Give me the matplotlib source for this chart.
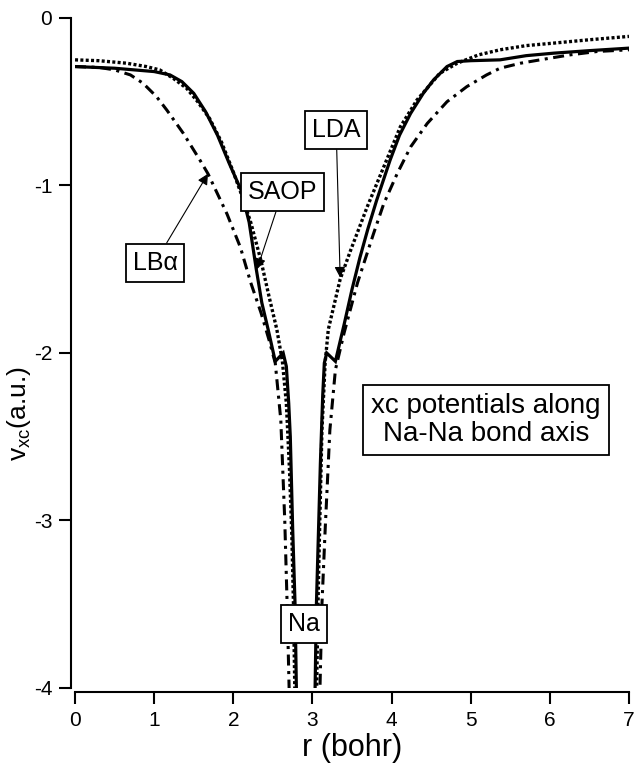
import numpy as np
import matplotlib
matplotlib.use("Agg")
import matplotlib.pyplot as plt

plt.rcParams['font.family'] = ['Liberation Sans', 'DejaVu Sans']
plt.rcParams['axes.unicode_minus'] = False
plt.rcParams['mathtext.default'] = 'regular'

# SAOP (solid)
saop_r = [0.0, 0.5, 1.0, 1.2, 1.35, 1.5, 1.65, 1.8, 1.95, 2.1, 2.2, 2.29, 2.36, 2.44, 2.53,
          2.63, 2.67, 2.70, 2.72, 2.75, 2.78, 2.80,
          3.03, 3.05, 3.08, 3.10, 3.13, 3.15, 3.18, 3.29, 3.4, 3.5, 3.6, 3.7, 3.81, 3.98,
          4.1, 4.24, 4.4, 4.53, 4.7, 4.83, 5.0, 5.37, 5.7, 6.05, 6.5, 7.0]
saop_v = [-0.29, -0.30, -0.32, -0.34, -0.38, -0.45, -0.56, -0.70, -0.87, -1.03, -1.22, -1.50, -1.70, -1.86, -2.05,
          -2.00, -2.08, -2.30, -2.50, -3.05, -3.50, -4.10,
          -4.10, -3.50, -3.00, -2.66, -2.25, -2.06, -2.00, -2.05, -1.83, -1.62, -1.43, -1.26, -1.09, -0.85,
          -0.70, -0.57, -0.45, -0.37, -0.29, -0.26, -0.255, -0.25, -0.225, -0.21, -0.195, -0.18]

# LDA (dotted)
lda_r = [0.0, 0.3, 0.65, 0.9, 1.07, 1.24, 1.41, 1.55, 1.7, 1.85, 2.0, 2.1, 2.22, 2.35, 2.45, 2.55,
         2.62, 2.67, 2.71, 2.74, 2.76, 2.78,
         3.05, 3.07, 3.09, 3.12, 3.16, 3.20, 3.35, 3.48, 3.69, 3.90, 4.11, 4.32, 4.61, 4.83,
         5.1, 5.37, 5.7, 6.05, 6.5, 7.0]
lda_v = [-0.25, -0.255, -0.27, -0.29, -0.31, -0.36, -0.42, -0.50, -0.60, -0.74, -0.92, -1.05, -1.22, -1.45, -1.66, -1.86,
         -2.05, -2.30, -2.70, -3.10, -3.50, -4.10,
         -4.10, -3.50, -3.06, -2.46, -2.06, -1.86, -1.56, -1.39, -1.13, -0.89, -0.65, -0.49, -0.33, -0.27,
         -0.22, -0.19, -0.165, -0.15, -0.13, -0.11]

# LB-alpha (dash-dot)
lba_r = [0.0, 0.3, 0.5, 0.7, 0.86, 1.03, 1.16, 1.37, 1.58, 1.68, 1.92, 2.09, 2.22, 2.35, 2.45, 2.53,
         2.60, 2.65, 2.68, 2.71,
         3.09, 3.12, 3.16, 3.22, 3.29, 3.4, 3.57, 3.77, 3.90, 4.07, 4.24, 4.45, 4.70, 4.95,
         5.2, 5.37, 5.63, 6.0, 6.26, 6.6, 7.0]
lba_v = [-0.29, -0.295, -0.31, -0.34, -0.39, -0.47, -0.55, -0.69, -0.85, -0.93, -1.17, -1.37, -1.58, -1.76, -1.92, -2.06,
         -2.40, -3.00, -3.50, -4.10,
         -4.10, -3.50, -3.06, -2.46, -2.10, -1.88, -1.58, -1.29, -1.11, -0.93, -0.77, -0.63, -0.50, -0.41,
         -0.34, -0.30, -0.27, -0.24, -0.22, -0.20, -0.19]

fig = plt.figure(figsize=(6.36, 7.65), dpi=100)
ax = fig.add_axes([0.118, 0.1007, 0.871, 0.8758])

ax.plot(lba_r, lba_v, color='black', lw=2.2, linestyle=(0, (3.6, 1.8, 1, 1.8)))
ax.plot(lda_r, lda_v, color='black', lw=2.4, linestyle=(0, (0.9, 0.7)))
ax.plot(saop_r, saop_v, color='black', lw=2.3, solid_joinstyle='miter')

ax.set_xlim(0, 7)
ax.set_ylim(-4, 0)
ax.set_xticks(range(0, 8))
ax.set_yticks([0, -1, -2, -3, -4])

for s in ['top', 'right']:
    ax.spines[s].set_visible(False)
for s in ['left', 'bottom']:
    ax.spines[s].set_position(('outward', 3))
    ax.spines[s].set_linewidth(1.5)
ax.tick_params(direction='out', length=8.5, width=1.5, labelsize=15, pad=5)

ax.set_xlabel('r (bohr)', fontsize=22, labelpad=2)
ax.set_ylabel(r'v$_{xc}$(a.u.)', fontsize=19)
ax.yaxis.set_label_coords(-0.076, 0.41)

box = dict(boxstyle='square,pad=0.28', fc='white', ec='black', lw=1.3)
arrow = dict(arrowstyle='-|>', color='black', lw=0.8, mutation_scale=16, shrinkA=0, shrinkB=0)

ax.annotate('LB\u03b1', xy=(1.68, -0.93), xytext=(1.01, -1.46), fontsize=18,
            ha='center', va='center', bbox=box, arrowprops=arrow)
ax.annotate('SAOP', xy=(2.30, -1.50), xytext=(2.62, -1.04), fontsize=18,
            ha='center', va='center', bbox=box, arrowprops=arrow)
ax.annotate('LDA', xy=(3.35, -1.55), xytext=(3.30, -0.67), fontsize=18,
            ha='center', va='center', bbox=box, arrowprops=arrow)
ax.text(2.89, -3.62, 'Na', fontsize=18, ha='center', va='center', bbox=box)
ax.text(5.19, -2.40, 'xc potentials along\nNa-Na bond axis', fontsize=20,
        ha='center', va='center', linespacing=1.1,
        bbox=dict(boxstyle='square,pad=0.3', fc='white', ec='black', lw=1.3))

fig.savefig('out.png', dpi=100)
